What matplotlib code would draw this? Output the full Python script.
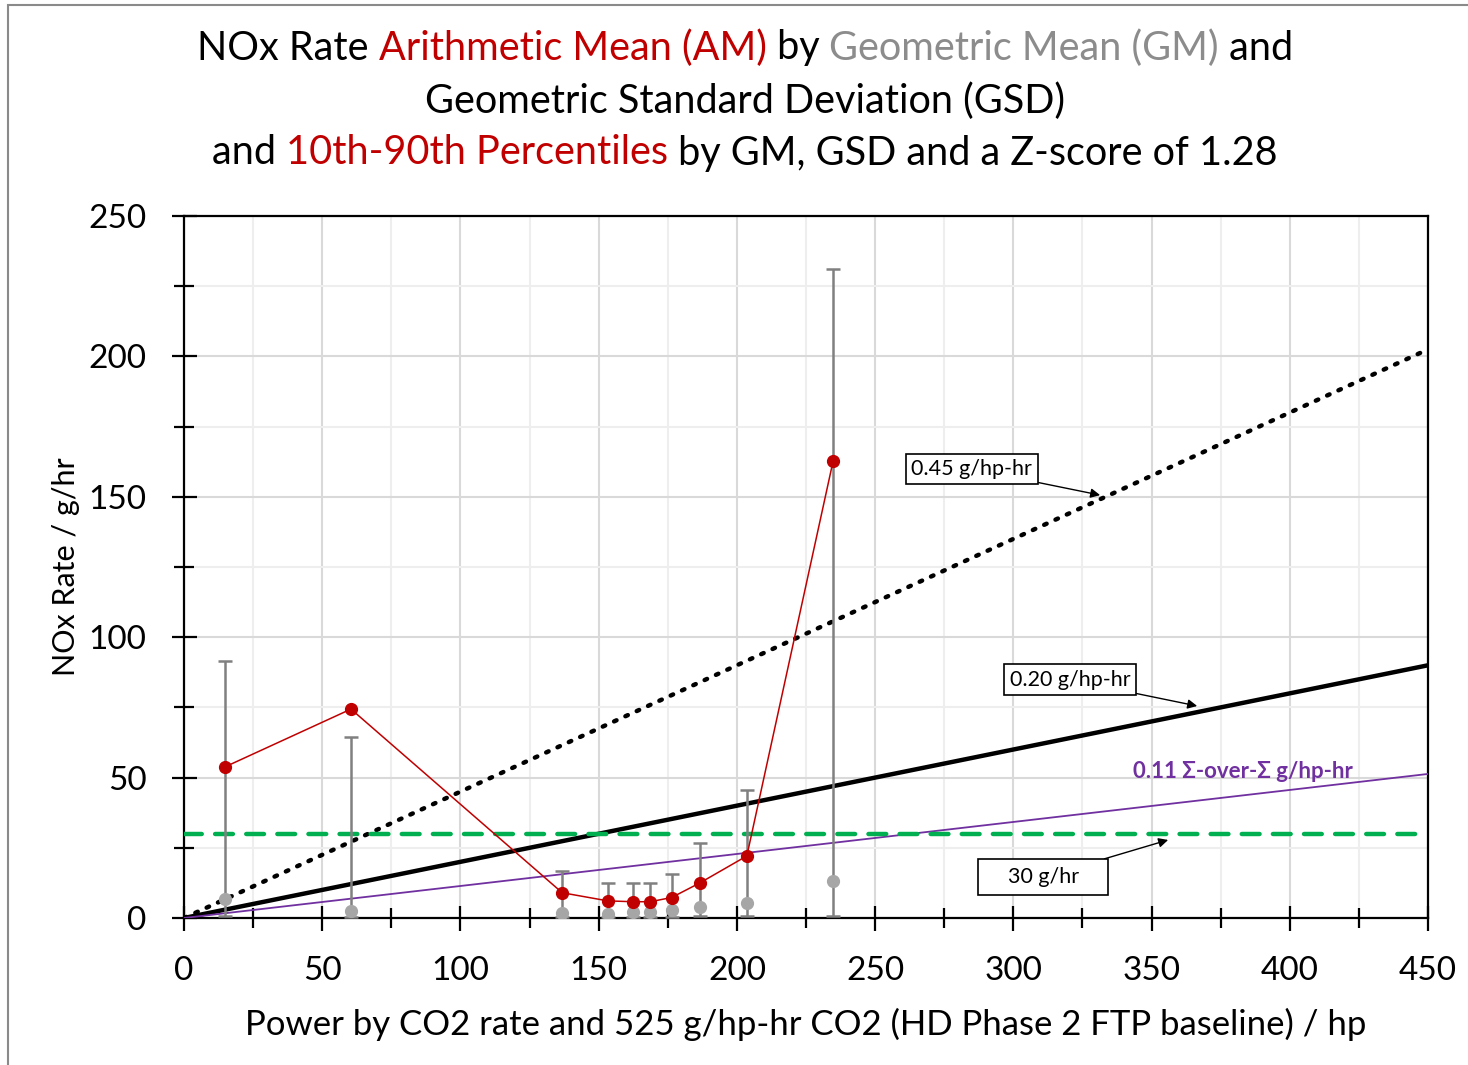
import matplotlib.pyplot as plt
from matplotlib.patches import Rectangle
from matplotlib.ticker import MultipleLocator

plt.rcParams['font.family'] = ['Lato', 'DejaVu Sans']

# power bins (hp) and NOx rate stats (g/hr)
power = [14.8, 60.4, 136.8, 153.3, 162.3, 168.7, 176.4, 186.8, 203.6, 234.8]
am = [53.8, 74.4, 9.0, 6.1, 5.8, 5.8, 7.3, 12.6, 22.1, 162.7]
gm = [6.8, 2.5, 1.9, 1.4, 2.1, 2.1, 2.8, 3.8, 5.4, 13.2]
p90 = [91.5, 64.5, 16.7, 12.5, 12.5, 12.5, 15.7, 26.6, 45.6, 231.1]
p10 = [0.7, 0.3, 0.4, 0.3, 0.4, 0.4, 0.5, 0.7, 0.8, 0.8]

# reference lines
line_x = [0, 450]
std_045 = [0, 202.5]
std_020 = [0, 90.0]
sum_011 = [0, 51.3]
flat_30 = [30, 30]

RED = '#C00000'
GREY_TXT = '#8C8C8C'
GREY_PT = '#A6A6A6'
GREY_BAR = '#808080'
PURPLE = '#7030A0'
GREEN = '#00B050'

W, H = 1468, 1065
fig = plt.figure(figsize=(W / 100, H / 100), dpi=100)
ax = fig.add_axes([184 / W, 1 - 918 / H, 1244 / W, 702 / H])

# frame round the figure
fig.patches.append(Rectangle((8 / W, -0.1), 1.2, 1.1 - 5 / H, transform=fig.transFigure,
                             fill=False, edgecolor='#8A8A8A', lw=1.5))

ax.plot(line_x, std_045, color='black', lw=3.2, linestyle=(0, (0.6, 2.2)),
        dash_capstyle='round', zorder=3)
ax.plot(line_x, std_020, color='black', lw=3.2, zorder=3)
ax.plot(line_x, sum_011, color=PURPLE, lw=1.3, zorder=3)
ax.plot(line_x, flat_30, color=GREEN, lw=3.2, linestyle=(0, (4, 3)),
        dash_capstyle='round', zorder=3)

lo = [g - p for g, p in zip(gm, p10)]
hi = [p - g for g, p in zip(gm, p90)]
ax.errorbar(power, gm, yerr=[lo, hi], fmt='none', ecolor=GREY_BAR, elinewidth=1.8,
            capsize=5, capthick=1.8, zorder=4)
ax.plot(power, gm, 'o', color=GREY_PT, ms=8.5, zorder=5)
ax.plot(power, am, '-o', color=RED, lw=1.1, ms=8.5, zorder=6)

ax.set_xlim(0, 450)
ax.set_ylim(0, 250)
ax.xaxis.set_major_locator(MultipleLocator(50))
ax.xaxis.set_minor_locator(MultipleLocator(25))
ax.yaxis.set_major_locator(MultipleLocator(50))
ax.yaxis.set_minor_locator(MultipleLocator(25))
ax.grid(which='major', color='#D9D9D9', lw=1.5, zorder=0)
ax.grid(which='minor', color='#EEEEEE', lw=1.5, zorder=0)
ax.set_axisbelow(True)
for s in ax.spines.values():
    s.set_linewidth(1.6)
ax.tick_params(which='major', direction='inout', length=18, width=1.6,
               labelsize=24, pad=18)
ax.tick_params(which='minor', direction='inout', length=14, width=1.6)
ax.set_xlabel('Power by CO2 rate and 525 g/hp-hr CO2 (HD Phase 2 FTP baseline) / hp',
              fontsize=25, labelpad=16)
ax.set_ylabel('NOx Rate / g/hr', fontsize=22, labelpad=6)

box = dict(boxstyle='square,pad=0.25', fc='white', ec='black', lw=1.2)
arrow = dict(arrowstyle='-|>', color='black', lw=1, mutation_scale=14, shrinkA=0, shrinkB=0)
ax.annotate('0.45 g/hp-hr', xy=(331.4, 150.6), xytext=(285, 159.9), fontsize=15.5,
            ha='center', va='center', bbox=box, arrowprops=arrow, zorder=7)
ax.annotate('0.20 g/hp-hr', xy=(366.5, 75.5), xytext=(320.5, 84.8), fontsize=15.5,
            ha='center', va='center', bbox=box, arrowprops=arrow, zorder=7)
ax.annotate('    30 g/hr    ', xy=(356, 27.8), xytext=(310.8, 14.6), fontsize=15.5,
            ha='center', va='center', bbox=dict(boxstyle='square,pad=0.35', fc='white',
                                                ec='black', lw=1.2),
            arrowprops=arrow, zorder=7)
ax.text(383, 52, '0.11 Σ-over-Σ g/hp-hr', color=PURPLE, fontsize=16, fontweight='bold',
        ha='center', va='center', zorder=7)

# multi-coloured title, one line at a time
title_lines = [
    (48, [('NOx Rate ', 'black'), ('Arithmetic Mean (AM)', RED), (' by ', 'black'),
          ('Geometric Mean (GM)', GREY_TXT), (' and', 'black')]),
    (101, [('Geometric Standard Deviation (GSD)', 'black')]),
    (153, [('and ', 'black'), ('10th-90th Percentiles', RED),
           (' by GM, GSD and a Z-score of 1.28', 'black')]),
]
renderer = fig.canvas.get_renderer()
for ypix, parts in title_lines:
    texts = [fig.text(0, 1 - ypix / H, s, color=c, fontsize=28.5, va='center', ha='left')
             for s, c in parts]
    widths = [t.get_window_extent(renderer).width for t in texts]
    x0 = 745 - sum(widths) / 2
    for t, w in zip(texts, widths):
        t.set_x(x0 / W)
        x0 += w

fig.savefig('out.png', dpi=100)
